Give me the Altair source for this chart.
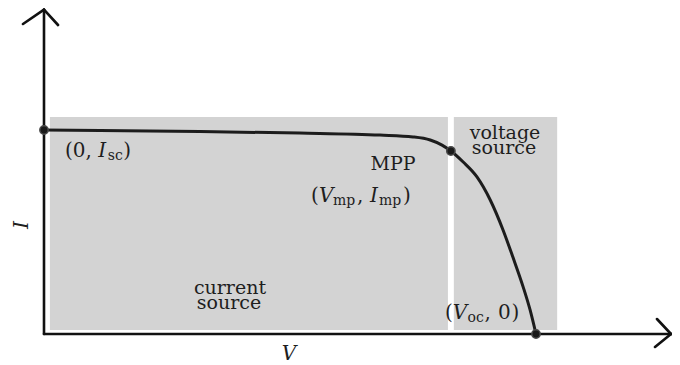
import altair as alt
import pandas as pd

# ---- data (normalised units: V / Voc, I / Isc) ----
curve_v = [0.0, 0.114, 0.317, 0.520, 0.683, 0.750, 0.785, 0.809, 0.827, 0.852, 0.880, 0.907, 0.933, 0.953, 0.974, 0.988, 1.0]
curve_i = [1.0, 0.9975, 0.9926, 0.985, 0.975, 0.966, 0.951, 0.926, 0.897, 0.843, 0.770, 0.657, 0.510, 0.377, 0.230, 0.118, 0.0]

point_names = ["Isc", "MPP", "Voc"]
point_v = [0.0, 0.827, 1.0]
point_i = [1.0, 0.897, 0.0]

region_names = ["current source", "voltage source"]
region_v0 = [0.012, 0.833]
region_v1 = [0.821, 1.043]
region_i0 = [0.02, 0.02]
region_i1 = [1.064, 1.064]

# axis lines and arrow heads (segments)
seg_v0 = [0.0, 1.2459, 1.2419, 0.0, -0.0427, 0.0285]
seg_i0 = [0.0, 0.0735, -0.0637, 0.0, 1.5196, 1.5147]
seg_v1 = [1.2744, 1.2744, 1.2744, 0.0, 0.0, 0.0]
seg_i1 = [0.0, 0.0, 0.0, 1.590, 1.590, 1.590]

# text pieces
txt_label = ["(0,", "I", "sc", ")",
             "MPP",
             "(", "V", "mp", ",", "I", "mp", ")",
             "voltage", "source",
             "current", "source",
             "(", "V", "oc", ",", "0", ")",
             "I", "V"]
txt_v = [0.0427, 0.1104, 0.1297, 0.1612,
         0.7093,
         0.5427, 0.5589, 0.5874, 0.6362, 0.6626, 0.6809, 0.7297,
         0.9370, 0.9350,
         0.3780, 0.3760,
         0.8150, 0.8309, 0.8608, 0.8953, 0.9228, 0.9502,
         -0.0447, 0.4980]
txt_i = [0.8676, 0.8676, 0.8529, 0.8676,
         0.8039,
         0.6471, 0.6471, 0.6324, 0.6471, 0.6471, 0.6324, 0.6471,
         0.9559, 0.8824,
         0.1961, 0.1225,
         0.0735, 0.0735, 0.0588, 0.0735, 0.0735, 0.0735,
         0.5343, -0.0980]
txt_kind = ["roman", "italic", "sub", "roman",
            "word",
            "roman", "italic", "sub", "roman", "italic", "sub", "roman",
            "word", "word",
            "word", "word",
            "roman", "italic", "sub", "roman", "roman", "roman",
            "axisy", "axisx"]

curve = pd.DataFrame({"V": curve_v, "I": curve_i})
points = pd.DataFrame({"name": point_names, "V": point_v, "I": point_i})
regions = pd.DataFrame({"name": region_names, "V": region_v0, "V2": region_v1,
                        "I": region_i0, "I2": region_i1})
segs = pd.DataFrame({"V": seg_v0, "I": seg_i0, "V2": seg_v1, "I2": seg_i1})
texts = pd.DataFrame({"label": txt_label, "V": txt_v, "I": txt_i, "kind": txt_kind})

FONT = "DejaVu Serif"
INK = "#1e1e1e"
xs = alt.Scale(domain=[-0.073171, 1.276423], nice=False, zero=False)
ys = alt.Scale(domain=[-0.151961, 1.598039], nice=False, zero=False)
X = alt.X("V:Q", scale=xs, axis=None)
Y = alt.Y("I:Q", scale=ys, axis=None)

rects = alt.Chart(regions).mark_rect(color="#d3d3d3").encode(
    x=X, x2="V2:Q", y=Y, y2="I2:Q")

axes = alt.Chart(segs).mark_rule(color="#111111", strokeWidth=2.6, strokeCap="round").encode(
    x=X, x2="V2:Q", y=Y, y2="I2:Q")

line = alt.Chart(curve).mark_line(color="#1c1c1c", strokeWidth=3, interpolate="monotone").encode(
    x=X, y=Y, order="V:Q")

dots = alt.Chart(points).mark_point(filled=True, size=70, color="#1a1a1a",
                                    stroke="#4a4a4a", strokeWidth=1.5, opacity=1).encode(x=X, y=Y)

def text_layer(kind, **kw):
    return alt.Chart(texts).transform_filter(alt.datum.kind == kind).mark_text(
        font=FONT, color=INK, **kw).encode(x=X, y=Y, text="label:N")

t_roman = text_layer("roman", fontSize=20, align="left", baseline="alphabetic")
t_italic = text_layer("italic", fontSize=20, fontStyle="italic", align="left", baseline="alphabetic")
t_sub = text_layer("sub", fontSize=14, align="left", baseline="alphabetic")
t_word = text_layer("word", fontSize=19, align="center", baseline="alphabetic")
t_axx = text_layer("axisx", fontSize=20, fontStyle="italic", align="center", baseline="middle")
t_axy = text_layer("axisy", fontSize=20, fontStyle="italic", align="center", baseline="middle", angle=270)

chart = alt.layer(rects, axes, line, dots, t_roman, t_italic, t_sub, t_word, t_axx, t_axy).properties(
    width=664, height=357, padding=0,
    autosize=alt.AutoSizeParams(type="none"),
    background="white",
).configure_view(stroke=None)

chart.save("out.html", embed_options={"renderer": "svg", "actions": False})
